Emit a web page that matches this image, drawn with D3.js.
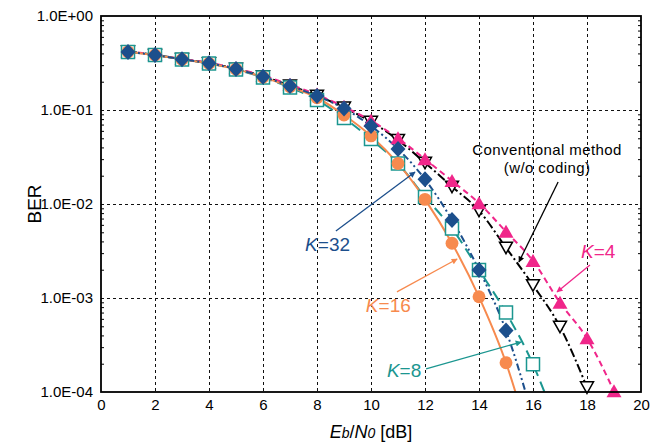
<!DOCTYPE html>
<html>
<head>
<meta charset="utf-8">
<script src="https://d3js.org/d3.v7.min.js"></script>
<style>
  body { margin: 0; background: #fff; }
  text { font-family: "Liberation Sans", Arial, sans-serif; }
</style>
</head>
<body>
<svg width="652" height="445"></svg>
<script>
// Eb/N0 points [dB]
const snr = d3.range(1, 20);

// BER per curve (index 0 = 1 dB)
const conventional = [0.42, 0.385, 0.348, 0.315, 0.275, 0.228, 0.182, 0.142, 0.106, 0.075, 0.048, 0.0275, 0.0153, 0.0085, 0.00343, 0.00137, 0.000495, 0.000112];
const k4 = [0.42, 0.387, 0.35, 0.318, 0.278, 0.232, 0.186, 0.146, 0.108, 0.077, 0.05, 0.030, 0.0176, 0.0102, 0.00508, 0.00248, 0.00089, 0.000372, 0.000102];
const k8 = [0.415, 0.385, 0.344, 0.312, 0.27, 0.222, 0.174, 0.128, 0.082, 0.049, 0.027, 0.0119, 0.0055, 0.00199, 0.0007, 0.000197];
const k16 = [0.415, 0.385, 0.345, 0.313, 0.272, 0.224, 0.177, 0.135, 0.0885, 0.053, 0.027, 0.0112, 0.00382, 0.00103, 0.000205];
const k32 = [0.415, 0.385, 0.346, 0.314, 0.273, 0.226, 0.18, 0.141, 0.104, 0.0676, 0.0385, 0.0183, 0.00676, 0.00199, 0.00045];

// where the fitted lines run on past the last marker (clipped at the axis)
const k8Tail = [[17, 3.6e-5]];
const k16Tail = [[16, 2.3e-5]];
const k32Tail = [[16, 5.3e-5]];

const xTicks = d3.range(0, 21, 2);
const yTicks = [1e-4, 1e-3, 1e-2, 1e-1, 1];

var svg = d3.select("svg");
var x = d3.scaleLinear().domain([0, 20]).range([101, 641]);
var y = d3.scaleLog().domain([1e-4, 1]).range([392, 16]);

function fmtE(v) {
	var e = Math.round(Math.log10(v));
	return "1.0E" + (e < 0 ? "-" : "+") + String(Math.abs(e)).padStart(2, "0");
}

svg.append("defs").append("clipPath").attr("id", "plot")
	.append("rect").attr("x", 101).attr("y", 16).attr("width", 540).attr("height", 376);

// grid (snapped to pixels so the dashes stay dark)
var px = v => Math.round(v) + 0.5;
var grid = svg.append("g").attr("stroke", "#111").attr("stroke-width", 1)
	.attr("stroke-dasharray", "3,3").attr("shape-rendering", "crispEdges");
grid.selectAll(".gx").data(xTicks.slice(1, -1)).enter().append("line")
	.attr("x1", d => px(x(d))).attr("x2", d => px(x(d))).attr("y1", 16).attr("y2", 392);
grid.selectAll(".gy").data(yTicks.slice(1, -1)).enter().append("line")
	.attr("x1", 101).attr("x2", 641).attr("y1", d => px(y(d))).attr("y2", d => px(y(d)));

// minor ticks on the log axis, both sides, pointing inward
var minors = [];
[1e-4, 1e-3, 1e-2, 1e-1].forEach(function(b) { for (var i = 2; i <= 9; i++) minors.push(b * i); });
svg.append("g").attr("transform", "translate(101,0)")
	.call(d3.axisLeft(y).tickValues(minors).tickSize(-3).tickFormat(""))
	.call(g => g.select(".domain").remove());
svg.append("g").attr("transform", "translate(641,0)")
	.call(d3.axisRight(y).tickValues(minors).tickSize(-3).tickFormat(""))
	.call(g => g.select(".domain").remove());

// tick labels
svg.append("g").attr("transform", "translate(101,0)")
	.call(d3.axisLeft(y).tickValues(yTicks).tickSize(0).tickPadding(8).tickFormat(fmtE))
	.call(g => g.select(".domain").remove())
	.selectAll("text").attr("font-size", 15).attr("fill", "#000").attr("font-family", "Liberation Sans, Arial, sans-serif");
svg.append("g").attr("transform", "translate(0,392)")
	.call(d3.axisBottom(x).tickValues(xTicks).tickSize(0).tickPadding(7))
	.call(g => g.select(".domain").remove())
	.selectAll("text").attr("font-size", 15).attr("fill", "#000").attr("font-family", "Liberation Sans, Arial, sans-serif");

// axis titles
svg.append("text").attr("transform", "translate(41,204) rotate(-90)")
	.attr("text-anchor", "middle").attr("font-size", 19).text("BER");
var xt = svg.append("text").attr("x", 371).attr("y", 438).attr("text-anchor", "middle").attr("font-size", 18);
xt.append("tspan").attr("font-style", "italic").text("E");
xt.append("tspan").attr("font-style", "italic").attr("font-size", 14).text("b");
xt.append("tspan").text("/");
xt.append("tspan").attr("font-style", "italic").text("N");
xt.append("tspan").attr("font-style", "italic").attr("font-size", 14).text("0");
xt.append("tspan").text(" [dB]");

// curves
var line = d3.line().x(d => x(d[0])).y(d => y(d[1])).curve(d3.curveMonotoneX);
var plot = svg.append("g").attr("clip-path", "url(#plot)");

var series = [
	{ vals: conventional, tail: [], color: "#000", dash: "9,3,2,3", marker: "down" },
	{ vals: k4, tail: [], color: "#f0268a", dash: "6,4", marker: "up" },
	{ vals: k8, tail: k8Tail, color: "#1b9690", dash: "11,6", marker: "square" },
	{ vals: k16, tail: k16Tail, color: "#f78a4e", dash: null, marker: "circle" },
	{ vals: k32, tail: k32Tail, color: "#1c4f8c", dash: "7,3,2,3,2,3", marker: "diamond" }
];

function markerPath(kind) {
	if (kind == "up") return "M0,-7L7.5,6L-7.5,6Z";
	if (kind == "down") return "M0,6L6.5,-5.5L-6.5,-5.5Z";
	if (kind == "square") return "M-6.5,-6.5H6.5V6.5H-6.5Z";
	if (kind == "diamond") return "M0,-8L7.5,0L0,8L-7.5,0Z";
	return d3.symbol(d3.symbolCircle, 130)();
}

series.forEach(function(s) {
	var pts = s.vals.map((v, i) => [snr[i], v]);
	plot.append("path")
		.datum(pts.concat(s.tail))
		.attr("fill", "none")
		.attr("stroke", s.color)
		.attr("stroke-width", 2)
		.attr("stroke-dasharray", s.dash)
		.attr("d", line);
});

series.forEach(function(s) {
	var pts = s.vals.map((v, i) => [snr[i], v]);
	var hollow = s.marker == "down" || s.marker == "square";
	svg.append("g").selectAll("path").data(pts).enter().append("path")
		.attr("transform", d => "translate(" + x(d[0]) + "," + y(d[1]) + ")")
		.attr("d", markerPath(s.marker))
		.attr("fill", hollow ? "#fff" : s.color)
		.attr("stroke", hollow ? s.color : "none")
		.attr("stroke-width", 1.5);
});

// frame
svg.append("rect").attr("x", 101).attr("y", 16).attr("width", 540).attr("height", 376)
	.attr("fill", "none").attr("stroke", "#000").attr("stroke-width", 1.8);

// annotations, placed in data units
var notes = [
	{ text: "32", color: "#1c4f8c", at: [7.56, 3.16e-3], from: [8.70, 5.16e-3], to: [11.63, 0.0219] },
	{ text: "16", color: "#f78a4e", at: [9.81, 7.1e-4], from: [10.96, 1.16e-3], to: [13.19, 2.6e-3] },
	{ text: "8", color: "#1b9690", at: [10.59, 1.44e-4], from: [12.04, 1.76e-4], to: [15.56, 3.4e-4] },
	{ text: "4", color: "#f0268a", at: [17.78, 2.67e-3], from: [18.11, 2.24e-3], to: [16.89, 1.16e-3] }
];

var defs = svg.select("defs");
function arrowHead(id, color) {
	defs.append("marker").attr("id", id)
		.attr("viewBox", "0 0 10 10").attr("refX", 9).attr("refY", 5)
		.attr("markerWidth", 10).attr("markerHeight", 6).attr("markerUnits", "userSpaceOnUse")
		.attr("orient", "auto")
		.append("path").attr("d", "M0,0L10,5L0,10Z").attr("fill", color);
}

notes.forEach(function(n, i) {
	arrowHead("ah" + i, n.color);
	svg.append("line")
		.attr("x1", x(n.from[0])).attr("y1", y(n.from[1]))
		.attr("x2", x(n.to[0])).attr("y2", y(n.to[1]))
		.attr("stroke", n.color).attr("stroke-width", 1.3)
		.attr("marker-end", "url(#ah" + i + ")");
	var t = svg.append("text").attr("x", x(n.at[0])).attr("y", y(n.at[1]))
		.attr("font-size", 19).attr("fill", n.color);
	t.append("tspan").attr("font-style", "italic").text("K");
	t.append("tspan").text("=" + n.text);
});

arrowHead("ahc", "#000");
svg.append("line")
	.attr("x1", x(16.93)).attr("y1", y(0.01714))
	.attr("x2", x(15.48)).attr("y2", y(2.42e-3))
	.attr("stroke", "#000").attr("stroke-width", 1.3)
	.attr("marker-end", "url(#ahc)");
svg.append("text").attr("x", x(16.52)).attr("y", y(0.0332)).attr("text-anchor", "middle")
	.attr("font-size", 15).attr("letter-spacing", 0.4).text("Conventional method");
svg.append("text").attr("x", x(16.52)).attr("y", y(0.0214)).attr("text-anchor", "middle")
	.attr("font-size", 15).attr("letter-spacing", 0.4).text("(w/o coding)");
</script>
</body>
</html>
